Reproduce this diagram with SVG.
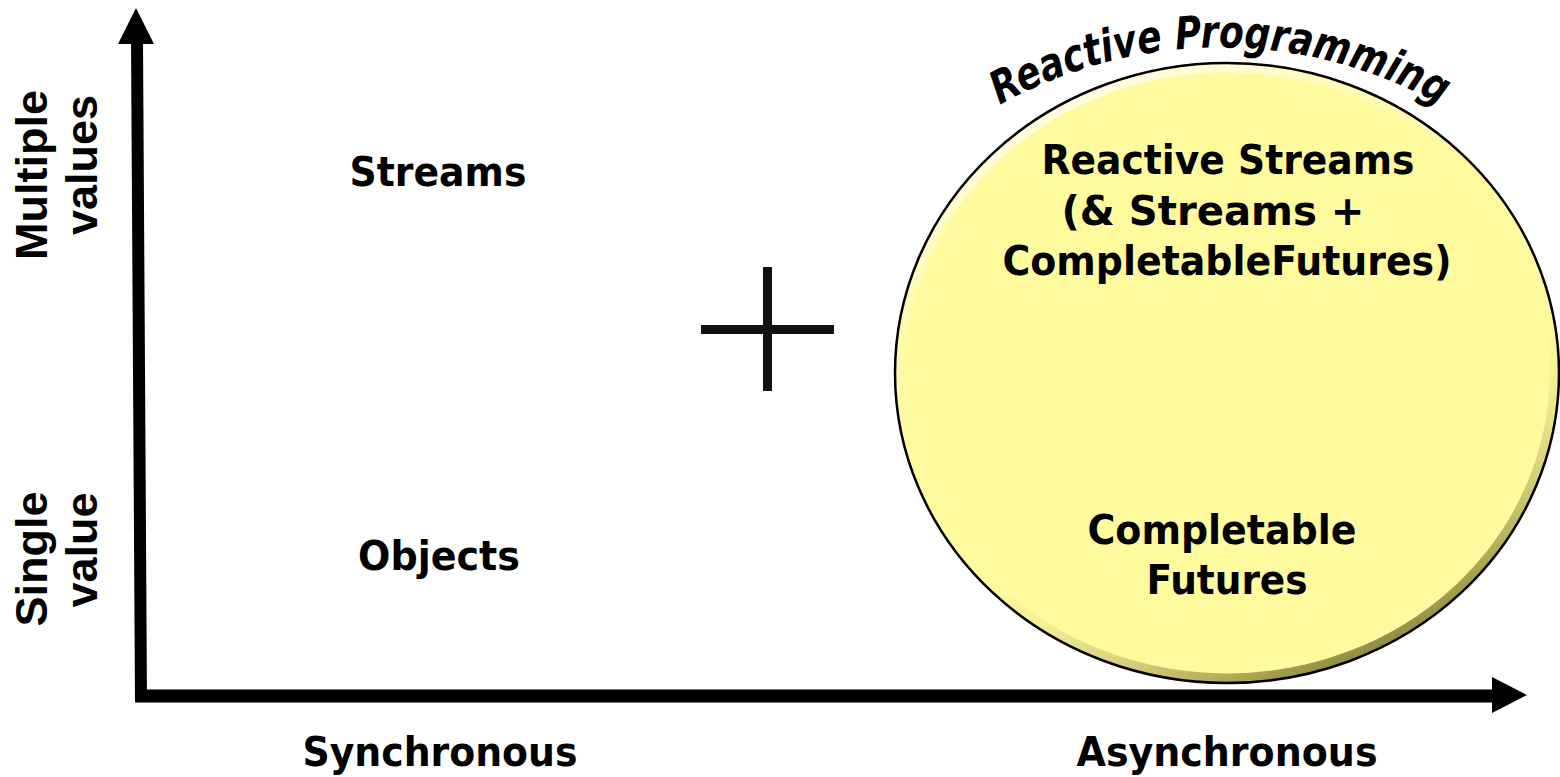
<svg xmlns="http://www.w3.org/2000/svg" width="1560" height="777" viewBox="0 0 1560 777">
  <style>
    .lbl { font-family: "DejaVu Sans", Verdana, sans-serif; font-weight: bold; font-size: 41px; fill: #000; text-anchor: middle; }
    .side { font-family: "Liberation Sans", Arial, sans-serif; font-weight: bold; font-size: 45px; fill: #000; text-anchor: middle; }
    .arc { font-family: "DejaVu Sans", Verdana, sans-serif; font-weight: bold; font-style: italic; font-size: 45px; fill: #000; }
    .axis { stroke: #000; stroke-width: 12; fill: none; }
    .plus { stroke: #111; stroke-width: 9; fill: none; }
  </style>
  <defs>
    <linearGradient id="bevel" x1="0.25" y1="0" x2="0.75" y2="1">
      <stop offset="0" stop-color="#ffffff" stop-opacity="0.85"/>
      <stop offset="0.45" stop-color="#fffa9e" stop-opacity="0"/>
      <stop offset="0.6" stop-color="#fffa9e" stop-opacity="0"/>
      <stop offset="1" stop-color="#5a5410" stop-opacity="0.85"/>
    </linearGradient>
    <path id="arcPath" d="M 975,120 A 450 450 0 0 1 1465,120"/>
  </defs>

  <g id="connectors">
    <line class="axis" x1="137" y1="40" x2="141" y2="702"/>
    <polygon points="136,8 118,44 154,44" fill="#000"/>
    <line class="axis" x1="135" y1="696" x2="1494" y2="696" style="stroke-width:13"/>
    <polygon points="1492,677 1527,695 1492,713" fill="#000"/>
  </g>

  <g id="y-labels">
    <text class="side" transform="translate(47,175) rotate(-90)">Multiple</text>
    <text class="side" transform="translate(97,165) rotate(-90)">values</text>
    <text class="side" transform="translate(47,559) rotate(-90)">Single</text>
    <text class="side" transform="translate(97,550) rotate(-90)">value</text>
  </g>

  <g id="x-labels">
    <text class="lbl" x="440" y="766" textLength="275" lengthAdjust="spacingAndGlyphs">Synchronous</text>
    <text class="lbl" x="1227" y="766" textLength="301" lengthAdjust="spacingAndGlyphs">Asynchronous</text>
  </g>

  <g id="streams">
    <text class="lbl" x="438" y="186" textLength="177" lengthAdjust="spacingAndGlyphs">Streams</text>
  </g>

  <g id="objects">
    <text class="lbl" x="439" y="570" textLength="162" lengthAdjust="spacingAndGlyphs">Objects</text>
  </g>

  <g id="plus">
    <line class="plus" x1="767.5" y1="267" x2="767.5" y2="391"/>
    <line class="plus" x1="701" y1="329.5" x2="834" y2="329.5"/>
  </g>

  <g id="reactive-programming">
    <ellipse cx="1227" cy="373" rx="332" ry="310" fill="#fffa9e"/>
    <ellipse cx="1227" cy="373" rx="327" ry="305" fill="none" stroke="url(#bevel)" stroke-width="9"/>
    <ellipse cx="1227" cy="373" rx="332" ry="310" fill="none" stroke="#000" stroke-width="2.5"/>
    <text class="arc"><textPath href="#arcPath" startOffset="50%" text-anchor="middle" textLength="460" lengthAdjust="spacingAndGlyphs">Reactive Programming</textPath></text>
    <text class="lbl" x="1228" y="174" textLength="373" lengthAdjust="spacingAndGlyphs">Reactive Streams</text>
    <text class="lbl" x="1213" y="225" textLength="303" lengthAdjust="spacingAndGlyphs">(&amp; Streams +</text>
    <text class="lbl" x="1227" y="275" textLength="449" lengthAdjust="spacingAndGlyphs">CompletableFutures)</text>
    <text class="lbl" x="1222" y="544" textLength="269" lengthAdjust="spacingAndGlyphs">Completable</text>
    <text class="lbl" x="1227" y="594" textLength="161" lengthAdjust="spacingAndGlyphs">Futures</text>
  </g>
</svg>
